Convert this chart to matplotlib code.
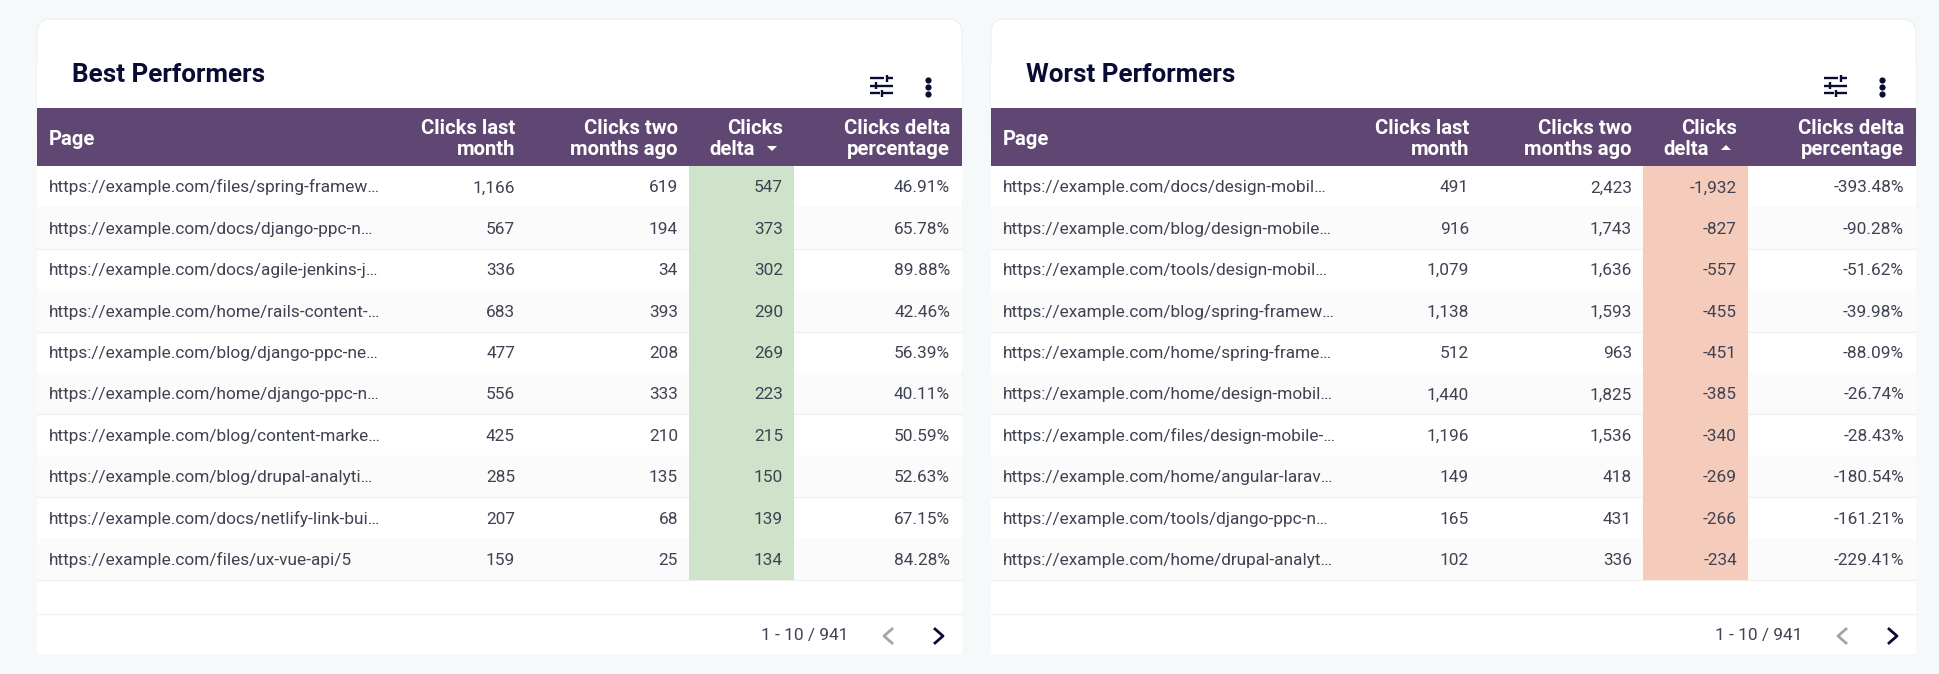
import matplotlib.pyplot as plt
from matplotlib.patches import FancyBboxPatch, Rectangle

plt.rcParams['font.family'] = ['Roboto', 'DejaVu Sans']

BG = '#f5f9fa'
HEADER = '#5f4673'
TEXT = '#3f4252'
DARK = '#0b0c33'

def draw_icons(dx):
    # sliders icon
    for y, x0, x1, kx, x2 in [(78, 870, 884, 887, 893), (85.5, 870, 875, 876, 893), (93, 870, 880, 882, 893)]:
        plt.plot([x0+dx, x1+dx], [y, y], color=DARK, linewidth=1.7, solid_capstyle='butt')
        plt.plot([kx+dx, x2+dx], [y, y], color=DARK, linewidth=1.7, solid_capstyle='butt')
        plt.plot([kx+dx, kx+dx], [y-3.5, y+3.5], color=DARK, linewidth=1.7, solid_capstyle='butt')
    # three dots
    plt.scatter([928+dx]*3, [80, 87, 94], color=DARK, s=20, linewidths=0)

def draw_table(dx, title, pages, last, two, delta, pct, fill, arrow_up):
    plt.gca().add_patch(FancyBboxPatch((37+dx+14, 19+14), 925-28, 100, boxstyle='round,pad=14',
                                       facecolor='white', edgecolor='#eef1f3', linewidth=1))
    plt.gca().add_patch(Rectangle((37+dx, 62), 925, 592, facecolor='white', edgecolor='none'))
    plt.text(72+dx, 82, title, color=DARK, fontsize=18.7, fontweight='bold', va='baseline')
    draw_icons(dx)

    # header
    plt.gca().add_patch(Rectangle((37+dx, 108), 925, 58, facecolor=HEADER, edgecolor='none'))
    plt.text(49+dx, 145, 'Page', color='white', fontsize=14.6, fontweight='bold', va='baseline')
    for x, top_line, bottom_line in [(515, 'Clicks last', 'month'), (678, 'Clicks two', 'months ago'),
                                     (950, 'Clicks delta', 'percentage')]:
        plt.text(x+dx, 133.5, top_line, color='white', fontsize=14.6, fontweight='bold', ha='right', va='baseline')
        plt.text(x+dx, 155, bottom_line, color='white', fontsize=14.6, fontweight='bold', ha='right', va='baseline')
    plt.text(783+dx, 133.5, 'Clicks', color='white', fontsize=14.6, fontweight='bold', ha='right', va='baseline')
    plt.text(755+dx, 155, 'delta', color='white', fontsize=14.6, fontweight='bold', ha='right', va='baseline')
    if arrow_up:
        plt.fill([767+dx, 777+dx, 772+dx], [150, 150, 145], color='white', linewidth=0)
    else:
        plt.fill([767+dx, 777+dx, 772+dx], [146, 146, 151], color='white', linewidth=0)

    # rows
    h = 41.4
    for i in range(len(pages)):
        top = 166 + i*h
        if i % 2 == 1:
            plt.gca().add_patch(Rectangle((37+dx, top), 925, h, facecolor='#fbfbfb', edgecolor='none'))
        plt.plot([37+dx, 962+dx], [top+h, top+h], color='#f0f0f0', linewidth=1, zorder=1)
        y = top + 26.4
        plt.text(49+dx, y, pages[i], color=TEXT, fontsize=12.4, va='baseline')
        plt.text(515+dx, y, f'{last[i]:,}', color=TEXT, fontsize=12.4, ha='right', va='baseline')
        plt.text(678+dx, y, f'{two[i]:,}', color=TEXT, fontsize=12.4, ha='right', va='baseline')
        plt.text(783+dx, y, f'{delta[i]:,}', color=TEXT, fontsize=12.4, ha='right', va='baseline')
        plt.text(950+dx, y, pct[i], color=TEXT, fontsize=12.4, ha='right', va='baseline')
    plt.gca().add_patch(Rectangle((689.5+dx, 166), 105, h*len(pages), facecolor=fill, edgecolor='none'))

    # footer
    plt.plot([37+dx, 962+dx], [613.5, 613.5], color='#f0f0f0', linewidth=1)
    plt.text(848+dx, 640, '1 - 10 / 941', color=TEXT, fontsize=12.4, ha='right', va='baseline')
    plt.plot([892+dx, 884+dx, 892+dx], [629, 636, 643], color='#a3a4ad', linewidth=2)
    plt.plot([935+dx, 943+dx, 935+dx], [629, 636, 643], color=DARK, linewidth=2)


best_pages = ['https://example.com/files/spring-framew…', 'https://example.com/docs/django-ppc-n…',
              'https://example.com/docs/agile-jenkins-j…', 'https://example.com/home/rails-content-…',
              'https://example.com/blog/django-ppc-ne…', 'https://example.com/home/django-ppc-n…',
              'https://example.com/blog/content-marke…', 'https://example.com/blog/drupal-analyti…',
              'https://example.com/docs/netlify-link-bui…', 'https://example.com/files/ux-vue-api/5']
best_last = [1166, 567, 336, 683, 477, 556, 425, 285, 207, 159]
best_two = [619, 194, 34, 393, 208, 333, 210, 135, 68, 25]
best_delta = [547, 373, 302, 290, 269, 223, 215, 150, 139, 134]
best_pct = ['46.91%', '65.78%', '89.88%', '42.46%', '56.39%', '40.11%', '50.59%', '52.63%', '67.15%', '84.28%']

worst_pages = ['https://example.com/docs/design-mobil…', 'https://example.com/blog/design-mobile…',
               'https://example.com/tools/design-mobil…', 'https://example.com/blog/spring-framew…',
               'https://example.com/home/spring-frame…', 'https://example.com/home/design-mobil…',
               'https://example.com/files/design-mobile-…', 'https://example.com/home/angular-larav…',
               'https://example.com/tools/django-ppc-n…', 'https://example.com/home/drupal-analyt…']
worst_last = [491, 916, 1079, 1138, 512, 1440, 1196, 149, 165, 102]
worst_two = [2423, 1743, 1636, 1593, 963, 1825, 1536, 418, 431, 336]
worst_delta = [-1932, -827, -557, -455, -451, -385, -340, -269, -266, -234]
worst_pct = ['-393.48%', '-90.28%', '-51.62%', '-39.98%', '-88.09%', '-26.74%', '-28.43%', '-180.54%', '-161.21%', '-229.41%']

fig = plt.figure(figsize=(19.4, 6.74), dpi=100, facecolor=BG)
plt.axes([0, 0, 1, 1])
plt.xlim(0, 1940)
plt.ylim(674, 0)
plt.axis('off')

draw_table(0, 'Best Performers', best_pages, best_last, best_two, best_delta, best_pct, '#cee3ca', False)
draw_table(954, 'Worst Performers', worst_pages, worst_last, worst_two, worst_delta, worst_pct, '#f5cbbb', True)

plt.savefig('out.png', dpi=100, facecolor=BG)
